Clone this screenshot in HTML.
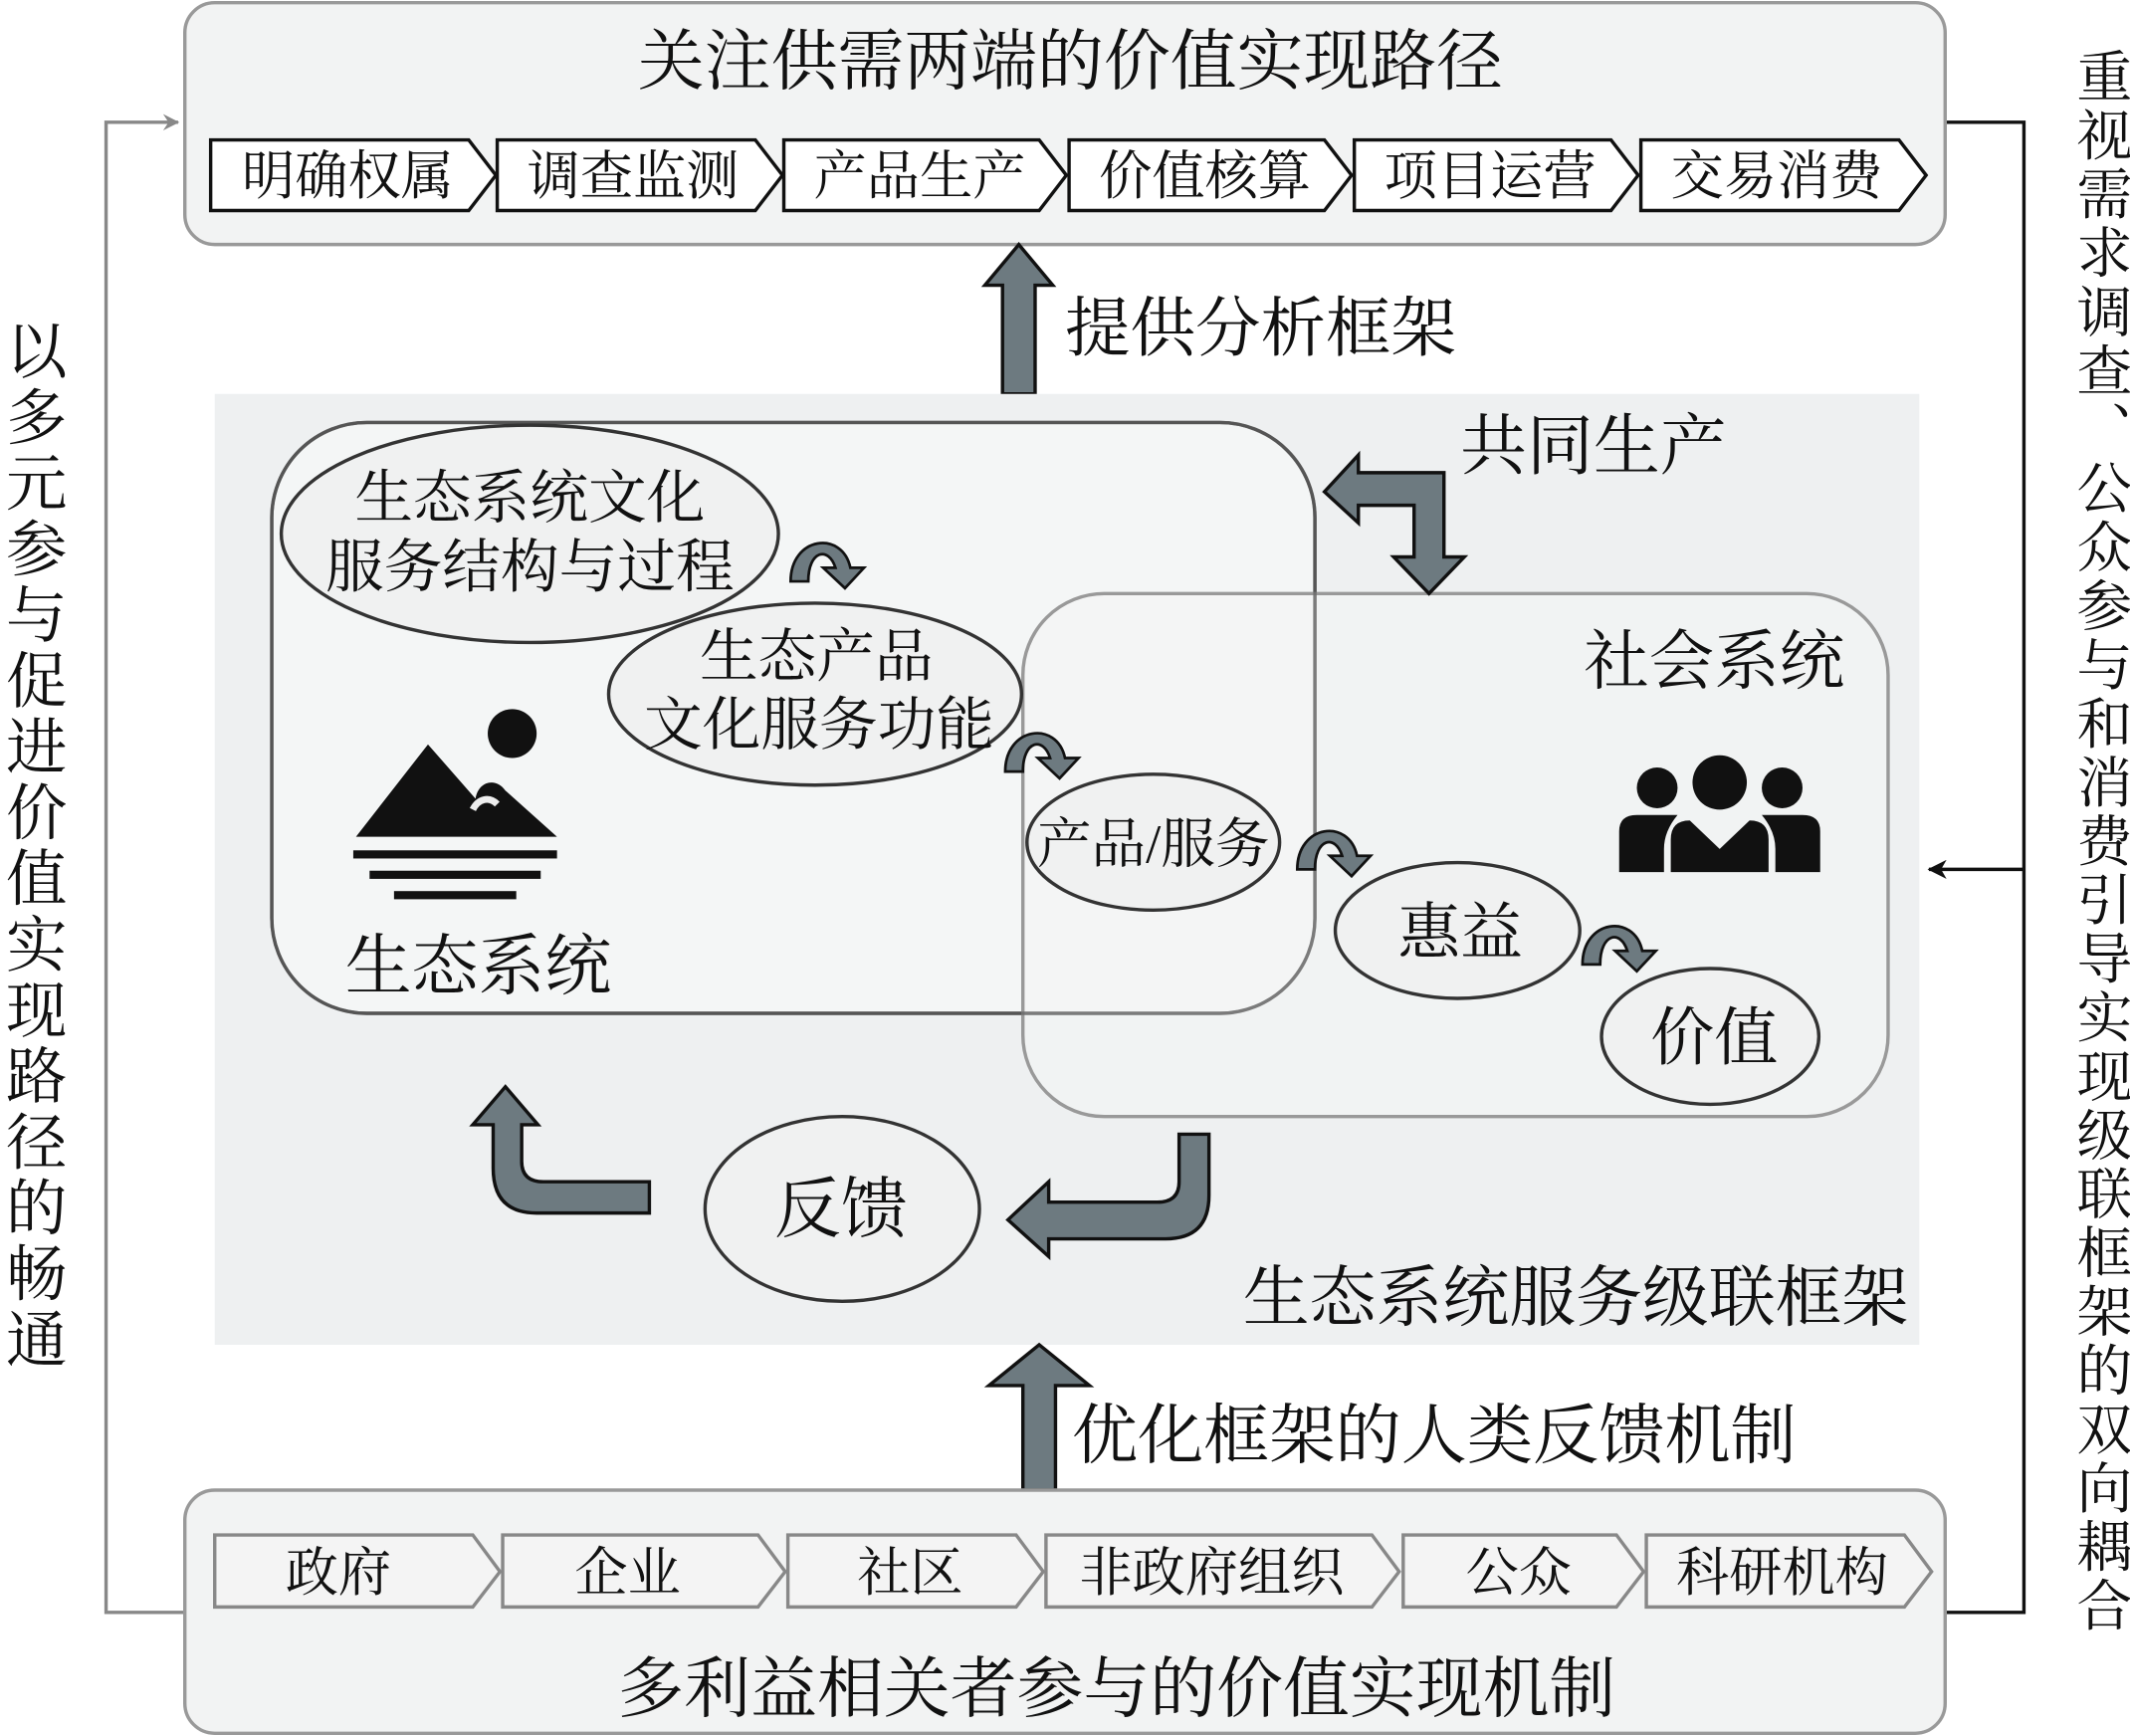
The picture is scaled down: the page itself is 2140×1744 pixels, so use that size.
<!DOCTYPE html>
<html><head><meta charset="utf-8"><style>
html,body{margin:0;padding:0;background:#fff;}
svg{display:block;}
text{font-family:"Liberation Serif","Noto Serif CJK SC",serif;fill:#111;}
</style></head><body>
<svg width="2140" height="1744" viewBox="0 0 1568 1278" xmlns="http://www.w3.org/2000/svg">
<defs>
<marker id="ah" markerWidth="12" markerHeight="12" refX="11" refY="6" orient="auto" markerUnits="userSpaceOnUse">
<path d="M0,0 L12,6 L0,12 L4,6 Z" fill="#888"/></marker>
<marker id="ahk" markerWidth="14" markerHeight="14" refX="13" refY="7" orient="auto" markerUnits="userSpaceOnUse">
<path d="M0,0 L14,7 L0,14 L4,7 Z" fill="#111"/></marker>
</defs>

<polyline points="136,1187 78,1187 78,90 131,90" fill="none" stroke="#888" stroke-width="2.5" marker-end="url(#ah)"/>
<polyline points="1432,90 1490,90 1490,1187 1432,1187" fill="none" stroke="#111" stroke-width="2.5"/>
<line x1="1490" y1="640" x2="1420" y2="640" stroke="#111" stroke-width="2.5" marker-end="url(#ahk)"/>

<text x="22" y="235" font-size="45" style="writing-mode:vertical-rl" letter-spacing="3.5">以多元参与促进价值实现路径的畅通</text>
<text x="1545" y="35" font-size="41" style="writing-mode:vertical-rl" letter-spacing="2.3">重视需求调查、公众参与和消费引导实现级联框架的双向耦合</text>

<rect x="136" y="2" width="1296" height="178" rx="22" fill="#f2f3f3" stroke="#999" stroke-width="2.5"/>
<text x="788" y="62" font-size="49" text-anchor="middle">关注供需两端的价值实现路径</text>
<g stroke="#111" stroke-width="2.5" fill="#fff">
<path d="M155,103 H345 L365,129 L345,155 H155 Z"/>
<path d="M366,103 H556 L576,129 L556,155 H366 Z"/>
<path d="M577,103 H765 L785,129 L765,155 H577 Z"/>
<path d="M787,103 H975 L995,129 L975,155 H787 Z"/>
<path d="M997,103 H1186 L1206,129 L1186,155 H997 Z"/>
<path d="M1208,103 H1398 L1418,129 L1398,155 H1208 Z"/>
</g>
<g font-size="39" text-anchor="middle">
<text x="256" y="143">明确权属</text><text x="466" y="143">调查监测</text>
<text x="677" y="143">产品生产</text><text x="887" y="143">价值核算</text>
<text x="1097" y="143">项目运营</text><text x="1308" y="143">交易消费</text>
</g>

<path d="M738,290 V210 H725 L750,180 L775,210 H762 V290 Z" fill="#6d7a80" stroke="#111" stroke-width="2.5"/>
<text x="784" y="258" font-size="48">提供分析框架</text>

<rect x="158" y="290" width="1255" height="700" fill="#eef0f1"/>
<rect x="200" y="311" width="768" height="435" rx="70" fill="#f7f8f8" fill-opacity="0.7" stroke="#555" stroke-width="2.5"/>
<rect x="753" y="437" width="637" height="385" rx="60" fill="#f4f5f5" fill-opacity="0.6" stroke="#999" stroke-width="2.5"/>
<rect x="200" y="311" width="768" height="435" rx="70" fill="none" stroke="#555" stroke-width="2.5" stroke-opacity="0.6"/>

<g fill="#f0f1f1" stroke="#333" stroke-width="2.5">
<ellipse cx="390" cy="393" rx="183" ry="80"/>
<ellipse cx="600" cy="511" rx="152" ry="67"/>
<ellipse cx="849" cy="620" rx="93" ry="50"/>
<ellipse cx="1073" cy="685" rx="90" ry="50"/>
<ellipse cx="1259" cy="763" rx="80" ry="50"/>
<ellipse cx="620" cy="890" rx="101" ry="68"/>
</g>
<g font-size="43" text-anchor="middle">
<text x="390" y="381">生态系统文化</text><text x="390" y="432">服务结构与过程</text>
<text x="601" y="498">生态产品</text><text x="603" y="548">文化服务功能</text>
<text x="849" y="635" font-size="40">产品/服务</text>
<text x="1075" y="702" font-size="46">惠益</text>
<text x="1262" y="780" font-size="47">价值</text>
<text x="619" y="907" font-size="49">反馈</text>
<text x="352" y="728" font-size="49">生态系统</text>
<text x="1262" y="503" font-size="48">社会系统</text>
<text x="1173" y="345" font-size="49">共同生产</text>
<text x="1160" y="972" font-size="49">生态系统服务级联框架</text>
</g>

<g fill="#6d7a80" stroke="#111" stroke-width="2">
<path d="M582,428 C582,395 620,390 626,418 L636,418 L622,433 L606,418 L615,418 C610,402 595,405 595,428 Z"/>
<path d="M740,568 C740,535 778,530 784,558 L794,558 L780,573 L764,558 L773,558 C768,542 753,545 753,568 Z"/>
<path d="M955,640 C955,607 993,602 999,630 L1009,630 L995,645 L979,630 L988,630 C983,614 968,617 968,640 Z"/>
<path d="M1165,710 C1165,677 1203,672 1209,700 L1219,700 L1205,715 L1189,700 L1198,700 C1193,684 1178,687 1178,710 Z"/>
</g>

<circle cx="377" cy="540" r="18" fill="#111"/>
<path d="M262,616 L315,548 L350,588 C352,575 365,572 372,582 L410,616 Z" fill="#111"/>
<path d="M348,596 C352,588 360,586 366,592" stroke="#eee" stroke-width="5" fill="none"/>
<rect x="260" y="626" width="150" height="6" fill="#111"/>
<rect x="272" y="641" width="126" height="6" fill="#111"/>
<rect x="290" y="656" width="90" height="6" fill="#111"/>

<circle cx="1220" cy="580" r="15" fill="#111"/>
<circle cx="1312" cy="580" r="15" fill="#111"/>
<circle cx="1266" cy="576" r="20" fill="#111"/>
<path d="M1192,642 V612 Q1192,600 1205,600 H1235 Q1225,612 1225,625 V642 Z" fill="#111"/>
<path d="M1340,642 V612 Q1340,600 1327,600 H1297 Q1307,612 1307,625 V642 Z" fill="#111"/>
<path d="M1230,642 V618 Q1230,604 1244,604 L1266,625 L1288,604 Q1302,604 1302,618 V642 Z" fill="#111"/>

<path d="M975,362 L1000,335 V348 H1063 V410 H1078 L1052,437 L1026,410 H1041 V372 H1000 V385 Z" fill="#6d7a80" stroke="#111" stroke-width="2.5"/>

<path d="M478,870 V893 H395 Q363,893 363,860 V828 H348 L372,800 L396,828 H384 V855 Q384,870 400,870 Z" fill="#6d7a80" stroke="#111" stroke-width="2.5"/>
<path d="M868,835 H890 V880 Q890,912 858,912 H772 V925 L742,898 L772,870 V885 H852 Q868,885 868,870 Z" fill="#6d7a80" stroke="#111" stroke-width="2.5"/>

<path d="M753,1097 V1020 H728 L765,990 L802,1020 H777 V1097 Z" fill="#6d7a80" stroke="#111" stroke-width="2.5"/>
<text x="789" y="1073" font-size="48.5">优化框架的人类反馈机制</text>

<rect x="136" y="1097" width="1296" height="179" rx="22" fill="#f2f3f3" stroke="#999" stroke-width="2.5"/>
<g stroke="#888" stroke-width="2.5" fill="#f4f4f4">
<path d="M158,1130 H348 L368,1157 L348,1183 H158 Z"/>
<path d="M370,1130 H558 L578,1157 L558,1183 H370 Z"/>
<path d="M580,1130 H748 L768,1157 L748,1183 H580 Z"/>
<path d="M770,1130 H1010 L1030,1157 L1010,1183 H770 Z"/>
<path d="M1033,1130 H1190 L1210,1157 L1190,1183 H1033 Z"/>
<path d="M1212,1130 H1402 L1422,1157 L1402,1183 H1212 Z"/>
</g>
<g font-size="39" text-anchor="middle">
<text x="249" y="1171">政府</text><text x="462" y="1171">企业</text>
<text x="670" y="1171">社区</text><text x="892" y="1171">非政府组织</text>
<text x="1118" y="1171">公众</text><text x="1312" y="1171">科研机构</text>
</g>
<text x="822" y="1260" font-size="49" text-anchor="middle">多利益相关者参与的价值实现机制</text>
</svg>
</body></html>
